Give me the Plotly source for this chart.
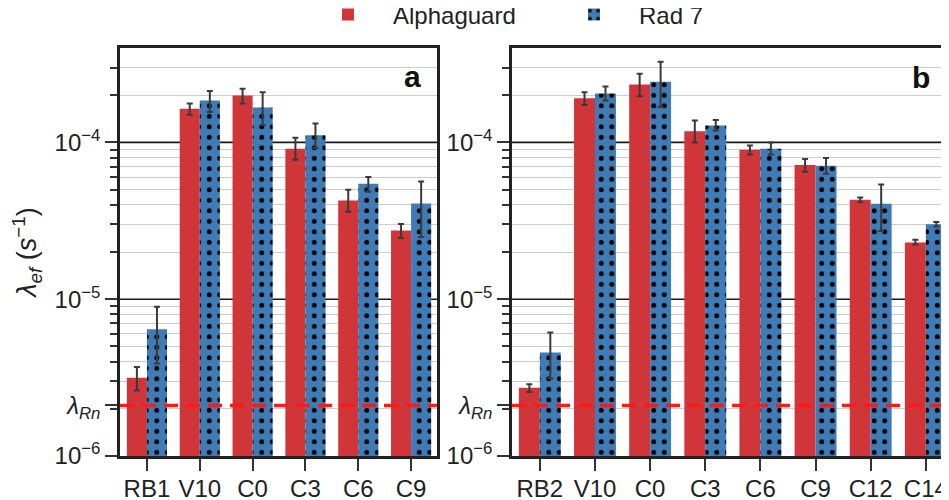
import numpy as np
import plotly.graph_objects as go

# ---------------- data ----------------
cats_a = ["RB1", "V10", "C0", "C3", "C6", "C9"]
alpha_a = [3.15e-6, 1.64e-4, 1.99e-4, 9.1e-5, 4.26e-5, 2.74e-5]
alpha_a_hi = [3.69e-6, 1.77e-4, 2.20e-4, 1.07e-4, 4.99e-5, 3.02e-5]
alpha_a_lo = [2.62e-6, 1.50e-4, 1.77e-4, 7.75e-5, 3.61e-5, 2.46e-5]
rad_a = [6.43e-6, 1.85e-4, 1.67e-4, 1.11e-4, 5.45e-5, 4.08e-5]
rad_a_hi = [8.95e-6, 2.13e-4, 2.09e-4, 1.32e-4, 6.01e-5, 5.63e-5]
rad_a_lo = [3.89e-6, 1.56e-4, 1.29e-4, 9.2e-5, 4.84e-5, 2.49e-5]

cats_b = ["RB2", "V10", "C0", "C3", "C6", "C9", "C12", "C14"]
alpha_b = [2.72e-6, 1.91e-4, 2.34e-4, 1.18e-4, 8.98e-5, 7.17e-5, 4.30e-5, 2.30e-5]
alpha_b_hi = [2.87e-6, 2.09e-4, 2.74e-4, 1.38e-4, 9.57e-5, 7.83e-5, 4.45e-5, 2.39e-5]
alpha_b_lo = [2.56e-6, 1.73e-4, 1.97e-4, 1.00e-4, 8.38e-5, 6.50e-5, 4.16e-5, 2.23e-5]
rad_b = [4.58e-6, 2.05e-4, 2.44e-4, 1.28e-4, 9.12e-5, 7.10e-5, 4.06e-5, 3.01e-5]
rad_b_hi = [6.14e-6, 2.27e-4, 3.27e-4, 1.39e-4, 1.00e-4, 7.95e-5, 5.39e-5, 3.11e-5]
rad_b_lo = [3.12e-6, 1.85e-4, 1.68e-4, 1.19e-4, 8.38e-5, 6.31e-5, 2.72e-5, 2.91e-5]

lambda_rn = 2.1e-6
y_min, y_max = 1e-6, 4e-4
major_vals = [1e-6, lambda_rn, 1e-5, 1e-4]
major_text = ["10<sup>−6</sup>", "<i>λ<sub>Rn</sub></i>", "10<sup>−5</sup>", "10<sup>−4</sup>"]
major_grid = [1e-5, 1e-4]
minor_vals = [m * 10.0 ** e for e in (-6, -5) for m in range(2, 10)] + [2e-4, 3e-4]

# ---------------- style ----------------
RED = "#d0353a"
BLUE = "#3f7cb6"
FONT = "Liberation Sans, Arial, sans-serif"
ERR = dict(color="#3a3a3a", thickness=2, width=3)
PATTERN = dict(shape=".", fgcolor="black", bgcolor=BLUE, size=10.5, solidity=0.17,
               fillmode="replace")


def err(vals, hi, lo):
    return dict(type="data", symmetric=False,
                array=[h - v for v, h in zip(vals, hi)],
                arrayminus=[v - l for v, l in zip(vals, lo)], **ERR)


fig = go.Figure()
fig.add_trace(go.Bar(x=cats_a, y=alpha_a, name="Alphaguard", marker=dict(color=RED, line_width=0),
                     error_y=err(alpha_a, alpha_a_hi, alpha_a_lo), legendgroup="a",
                     xaxis="x", yaxis="y"))
fig.add_trace(go.Bar(x=cats_a, y=rad_a, name="Rad 7",
                     marker=dict(color=BLUE, line_width=0, pattern=PATTERN),
                     error_y=err(rad_a, rad_a_hi, rad_a_lo), legendgroup="r",
                     xaxis="x", yaxis="y"))
fig.add_trace(go.Bar(x=cats_b, y=alpha_b, name="Alphaguard", marker=dict(color=RED, line_width=0),
                     error_y=err(alpha_b, alpha_b_hi, alpha_b_lo), legendgroup="a",
                     showlegend=False, xaxis="x2", yaxis="y2"))
fig.add_trace(go.Bar(x=cats_b, y=rad_b, name="Rad 7",
                     marker=dict(color=BLUE, line_width=0, pattern=PATTERN),
                     error_y=err(rad_b, rad_b_hi, rad_b_lo), legendgroup="r",
                     showlegend=False, xaxis="x2", yaxis="y2"))

# page body has an 8px margin, so lay out in a 941x492 figure offset by 8px
OFF = 8
W, H = 949 - OFF, 500 - OFF
L_a, R_a, L_b = 120 - OFF, 437 - OFF, 512 - OFF
T = 48 - OFF
B = H - (456 - OFF)

xcommon = dict(type="category", tickfont=dict(size=24, color="#222", family=FONT),
               ticks="outside", ticklen=12, tickwidth=2, tickcolor="#333",
               ticklabelstandoff=-3,
               showline=True, linewidth=2.5, linecolor="#222", mirror=True,
               showgrid=False, zeroline=False, automargin=False)
ycommon = dict(type="log", range=[np.log10(y_min), np.log10(y_max)],
               tickmode="array", tickvals=major_vals, ticktext=major_text,
               tickfont=dict(size=24, color="#222", family=FONT),
               ticks="outside", ticklen=12, tickwidth=2, tickcolor="#333",
               showline=True, linewidth=2.5, linecolor="#222",
               showgrid=False, zeroline=False, automargin=False,
               minor=dict(tickmode="array", tickvals=minor_vals, ticks="outside", ticklen=7,
                          tickwidth=1.8, tickcolor="#333", showgrid=True,
                          gridcolor="#cdcdcd", gridwidth=1.4))

fig.update_layout(
    width=W, height=H,
    margin=dict(l=0, r=0, t=T, b=B, autoexpand=False),
    paper_bgcolor="white", plot_bgcolor="white",
    font=dict(family=FONT, color="#222"),
    barmode="group", bargap=0.24, bargroupgap=0,
    xaxis=dict(domain=[L_a / W, R_a / W], anchor="y", range=[-0.51, 5.49], **xcommon),
    yaxis=dict(anchor="x", mirror=True,
               title=dict(text="<i>λ<sub>ef</sub></i> (<i>s</i><sup>−1</sup>)",
                          font=dict(size=27, family=FONT, color="#222"), standoff=11),
               **ycommon),
    xaxis2=dict(domain=[L_b / W, 1.0], anchor="y2", range=[-0.505, 7.42], **xcommon),
    yaxis2=dict(anchor="x2", mirror=False, **ycommon),
    legend=dict(orientation="h", xref="container", yref="container",
                x=(308 - OFF - 5) / W, xanchor="left",
                y=1 - (15 - OFF) / H, yanchor="middle",
                font=dict(size=24, family=FONT, color="#222"),
                itemwidth=80, entrywidth=151,
                bgcolor="rgba(0,0,0,0)"),
    showlegend=True,
)

shapes = []
for xr, yr in (("x", "y"), ("x2", "y2")):
    for gv in major_grid:
        shapes.append(dict(type="line", xref=xr + " domain", yref=yr, x0=0, x1=1, y0=gv, y1=gv,
                           line=dict(color="#1a1a1a", width=1.6), layer="below"))
    shapes.append(dict(type="line", xref=xr + " domain", yref=yr, x0=0, x1=1,
                       y0=lambda_rn, y1=lambda_rn,
                       line=dict(color="#ff1a1a", width=3.5, dash="14px,8px"), layer="above"))
fig.update_layout(shapes=shapes)

fig.add_annotation(text="<b>a</b>", xref="x domain", yref="y domain", x=0.955, y=0.93,
                   xanchor="right", yanchor="middle", showarrow=False,
                   font=dict(size=30, family=FONT, color="#111"))
fig.add_annotation(text="<b>b</b>", xref="x2 domain", yref="y2 domain", x=0.962, y=0.928,
                   xanchor="right", yanchor="middle", showarrow=False,
                   font=dict(size=30, family=FONT, color="#111"))

fig.write_html("out.html")
